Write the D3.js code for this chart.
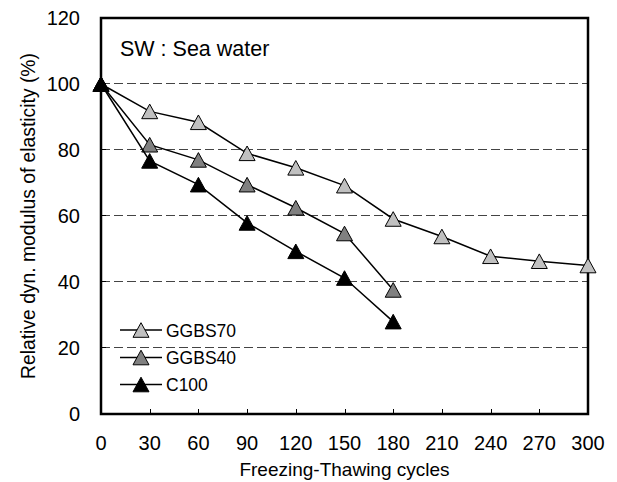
<!DOCTYPE html>
<html><head><meta charset="utf-8">
<script src="https://cdn.jsdelivr.net/npm/d3@7"></script>
<style>body{margin:0;background:#fff}svg{display:block}text{font-family:"Liberation Sans",Arial,sans-serif;fill:#000}</style>
</head><body><svg id="c" width="617" height="482"></svg>
<script>
const cycles = [0,30,60,90,120,150,180,210,240,270,300];
const ggbs70 = [100,91.7,88.4,79,74.6,69.2,59.1,53.8,47.8,46.3,45];
const ggbs40 = [100,81.6,77,69.5,62.5,54.7,37.6];
const c100   = [100,76.7,69.5,57.9,49.3,41.2,28];
const seriesNames = ["GGBS70","GGBS40","C100"];
const seriesFill = ["#c0c0c0","#808080","#000000"];
const xTicks = [0,30,60,90,120,150,180,210,240,270,300];
const yTicks = [0,20,40,60,80,100,120];
const gridVals = [20,40,60,80,100];
const titleText = "SW : Sea water";
const xLabel = "Freezing-Thawing cycles";
const yLabel = "Relative dyn. modulus of elasticity (%)";

const svg = d3.select("#c");
const L=101, R=588, T=18, B=414;
const x = d3.scaleLinear().domain([0,300]).range([L,R]);
const y = d3.scaleLinear().domain([0,120]).range([B,T]);

// grid
svg.append("g").selectAll("line").data(gridVals).join("line")
  .attr("x1",L).attr("x2",R).attr("y1",d=>Math.round(y(d))-0.5).attr("y2",d=>Math.round(y(d))-0.5)
  .attr("stroke","#444").attr("stroke-width",1).attr("stroke-dasharray","9,4");

// ticks inward
svg.append("g").selectAll("line").data(xTicks.slice(1,-1)).join("line")
  .attr("x1",d=>Math.round(x(d))+0.5).attr("x2",d=>Math.round(x(d))+0.5).attr("y1",B).attr("y2",B-5)
  .attr("stroke","#000").attr("stroke-width",1);
svg.append("g").selectAll("line").data(yTicks.slice(1,-1)).join("line")
  .attr("x1",L).attr("x2",L+5).attr("y1",d=>Math.round(y(d))-0.5).attr("y2",d=>Math.round(y(d))-0.5)
  .attr("stroke","#000").attr("stroke-width",1);

// frame
svg.append("rect").attr("x",L).attr("y",T).attr("width",R-L).attr("height",B-T)
  .attr("fill","none").attr("stroke","#000").attr("stroke-width",2.5);

// tick labels
svg.append("g").selectAll("text").data(xTicks).join("text")
  .attr("x",d=>x(d)).attr("y",450).attr("text-anchor","middle")
  .attr("font-size","20px").text(d=>d);
svg.append("g").selectAll("text").data(yTicks).join("text")
  .attr("x",80).attr("y",d=>y(d)+7).attr("text-anchor","end")
  .attr("font-size","20px").text(d=>d);

// axis titles
svg.append("text").attr("x",(L+R)/2).attr("y",476).attr("text-anchor","middle")
  .attr("font-size","19px").text(xLabel);
svg.append("text").attr("transform",`translate(35,${(T+B)/2}) rotate(-90)`)
  .attr("text-anchor","middle").attr("font-size","19.3px").text(yLabel);

// title
svg.append("text").attr("x",120).attr("y",56).attr("font-size","21.5px").text(titleText);

const tri = "M0,-7.3L8,7.3L-8,7.3Z";
const allSeries = [ggbs70, ggbs40, c100];
const line = d3.line().x((d,i)=>x(cycles[i])).y(d=>y(d));
allSeries.forEach((s,k)=>{
  const g = svg.append("g");
  g.append("path").attr("d",line(s)).attr("fill","none").attr("stroke","#000").attr("stroke-width",1.5);
  g.selectAll("path.m").data(s).join("path").attr("class","m")
    .attr("d",tri).attr("transform",(d,i)=>`translate(${x(cycles[i])},${y(d)})`)
    .attr("fill",seriesFill[k]).attr("stroke","#000").attr("stroke-width",1);
});

// legend
const legY = [330,357.5,384.5];
seriesNames.forEach((n,k)=>{
  const g = svg.append("g");
  g.append("line").attr("x1",120).attr("x2",162).attr("y1",legY[k]).attr("y2",legY[k])
    .attr("stroke","#000").attr("stroke-width",1.5);
  g.append("path").attr("d",tri).attr("transform",`translate(141,${legY[k]})`)
    .attr("fill",seriesFill[k]).attr("stroke","#000").attr("stroke-width",1);
  g.append("text").attr("x",166).attr("y",legY[k]+6.5).attr("font-size","17.5px").text(n);
});
</script></body></html>
